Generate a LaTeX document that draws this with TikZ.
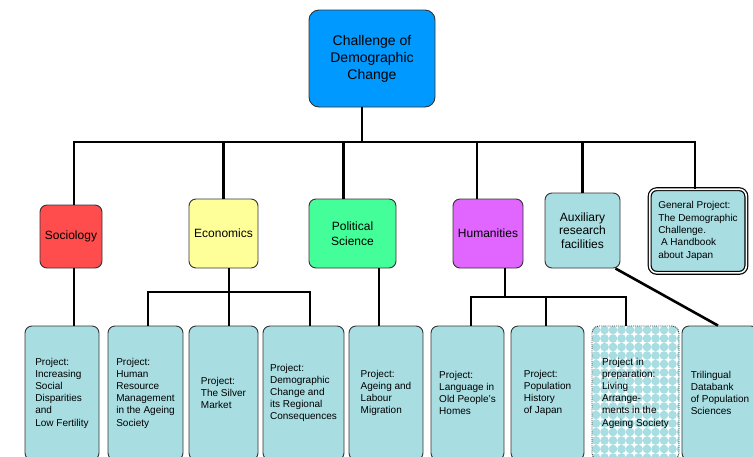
\documentclass[tikz,border=0pt]{standalone}
\usepackage{fontspec}
\setmainfont{Liberation Sans}
\definecolor{topblue}{RGB}{0,153,255}
\definecolor{socred}{RGB}{255,76,76}
\definecolor{ecoyellow}{RGB}{255,255,153}
\definecolor{polgreen}{RGB}{68,255,153}
\definecolor{humviolet}{RGB}{224,102,255}
\definecolor{projteal}{RGB}{168,221,226}
\begin{document}
\begin{tikzpicture}[x=1pt,y=-1pt,
  box/.style={draw=black!80,line width=0.9pt,rounded corners=7pt,inner sep=0pt},
  field/.style={box,align=center,font=\fontsize{12}{15}\selectfont},
  project/.style={box,fill=projteal,align=left,minimum width=#1,minimum height=134pt,
    font=\fontsize{10}{12.2}\selectfont},
  link/.style={line width=2.6pt}]
\clip (0,0) rectangle (753,456);
\begin{scope}
  \clip[rounded corners=7pt] (592,326) rectangle (679,460);
  \fill[white] (592,326) rectangle (679,460);
  \foreach \i in {0,...,10}
    \foreach \j in {0,...,16}
      \fill[projteal] (596+\i*8.5,330+\j*8.5) circle (4.3pt);
\end{scope}
\node[box,fill=topblue,minimum width=126pt,minimum height=97pt,rounded corners=10pt,
  align=center,font=\fontsize{14}{17}\selectfont] (top) at (372,58.5)
  {Challenge of\\Demographic\\Change};
\node[field,fill=socred,minimum width=62pt,minimum height=63pt] (soc) at (71,236.5) {Sociology};
\node[field,fill=ecoyellow,minimum width=69pt,minimum height=69pt] (eco) at (223.5,233.5) {Economics};
\node[field,fill=polgreen,minimum width=87pt,minimum height=69pt] (pol) at (352.5,233.5) {Political\\Science};
\node[field,fill=humviolet,minimum width=70pt,minimum height=69pt] (hum) at (488,233.5) {Humanities};
\node[field,fill=projteal,minimum width=75pt,minimum height=75pt,
  font=\fontsize{12}{13.5}\selectfont] (aux) at (582.5,230.5) {Auxiliary\\research\\facilities};
\node[box,draw=black,fill=projteal,line width=1.2pt,double=white,double distance=1.6pt,
  minimum width=96.6pt,minimum height=83.6pt,align=left,font=\fontsize{10}{12.3}\selectfont]
  (gen) at (698,231)
  {General Project:\\The Demographic\\Challenge.\\\ A Handbook\\about Japan};
\node[project=74pt] (p1) at (62,393) {Project:\\Increasing\\Social\\Disparities\\and\\Low Fertility};
\node[project=75pt] (p2) at (145.5,393) {Project:\\Human\\Resource\\Management\\in the Ageing\\Society};
\node[project=69pt] (p3) at (223.5,393) {Project:\\The Silver\\Market};
\node[project=81pt] (p4) at (303.5,393) {Project:\\Demographic\\Change and\\its Regional\\Consequences};
\node[project=74pt] (p5) at (386,393) {Project:\\Ageing and\\Labour\\Migration};
\node[project=73pt] (p6) at (467.5,393) {Project:\\Language in\\Old People’s\\Homes};
\node[project=73pt] (p7) at (547.5,393) {Project:\\Population\\History\\of Japan};
\node[project=87pt,fill=none,densely dotted] (p8) at (635.5,393)
  {Project in\\preparation:\\Living\\Arrange-\\ments in the\\Ageing Society};
\node[project=76pt] (p9) at (720,393) {Trilingual\\Databank\\of Population\\Sciences};
\coordinate (hub) at (362,142);
\coordinate (ecobar) at (229,292);
\coordinate (humbar) at (505,297);
\draw[link] ([xshift=-10pt]top.south) -- (hub);
\draw[link] ([xshift=3pt]soc.north) |- (hub) -| ([xshift=-3pt]gen.north);
\draw[link] (eco.north) -- (eco.north |- hub);
\draw[link] ([xshift=-9pt]pol.north) -- ([xshift=-9pt]pol.north |- hub);
\draw[link] ([xshift=-11pt]hum.north) -- ([xshift=-11pt]hum.north |- hub);
\draw[link] (aux.north) -- (aux.north |- hub);
\draw[link] ([xshift=3pt]soc.south) -- ([xshift=3pt]soc.south |- p1.north);
\draw[link] ([xshift=5.5pt]eco.south) -- ([xshift=5.5pt]p3.north);
\draw[link] ([xshift=2.5pt]p2.north) |- (ecobar) -| ([xshift=6.5pt]p4.north);
\draw[link] ([xshift=26.5pt]pol.south) -- ([xshift=26.5pt]pol.south |- p5.north);
\draw[link] ([xshift=17pt]hum.south) -- (humbar);
\draw[link] ([xshift=3.5pt]p6.north) |- (humbar) -| ([xshift=-9.5pt]p8.north);
\draw[link] ([xshift=-1.5pt]p7.north) -- ([xshift=-1.5pt]p7.north |- humbar);
\draw[link] ([xshift=-5pt]aux.south east) -- ([xshift=-2pt]p9.north);
\end{tikzpicture}
\end{document}
